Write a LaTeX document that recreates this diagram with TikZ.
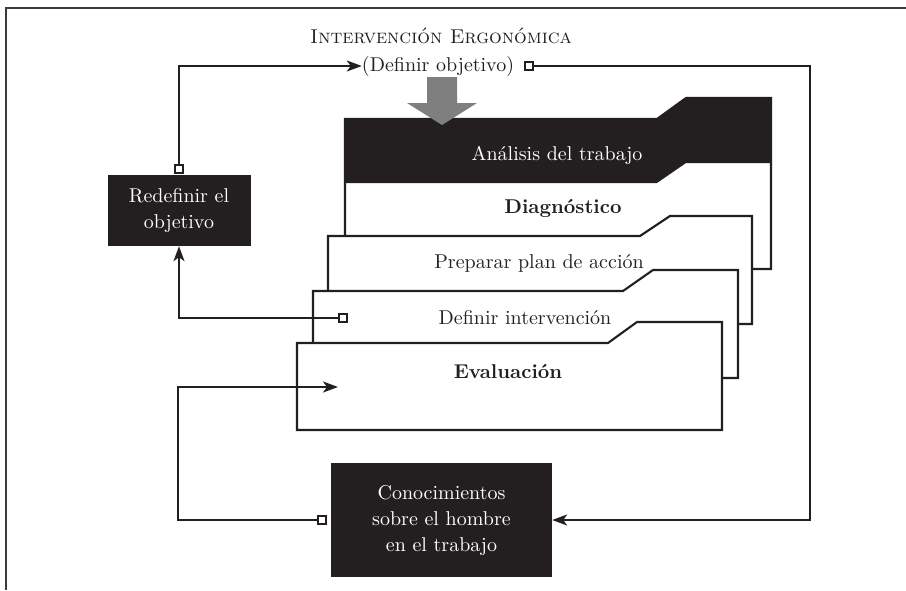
\documentclass[tikz,border=0pt]{standalone}
\usepackage{graphicx}
\usetikzlibrary{arrows.meta}
\definecolor{ink}{HTML}{231F20}
\definecolor{frameink}{HTML}{3C3C3C}
\definecolor{arrowgray}{HTML}{7F7F7F}
% text set in the 10pt design and enlarged, for a sturdier stroke
\newcommand\biglabel[1]{\scalebox{2.0}{\fontsize{10}{13}\selectfont\begin{tabular}{@{}c@{}}#1\end{tabular}}}
\begin{document}
\begin{tikzpicture}[x=1pt,y=-1pt,
  every node/.style={text=ink, inner sep=0pt},
  link/.style={draw=ink, line width=2pt},
  arr/.style={link, -{Stealth[length=15pt,width=11pt,inset=4pt]}},
  port/.style={draw=ink, fill=white, line width=1.9pt, minimum size=8.5pt, inner sep=0pt},
  darkbox/.style={fill=ink, text=white, align=center},
  folder/.style={draw=ink, fill=white, line width=2.1pt, line join=miter},
]
% page and frame
\fill[white] (0,0) rectangle (906,590);
\useasboundingbox (0,0) rectangle (906,590);
\draw[frameink, line width=1.4pt] (6,590) -- (6,8) -- (906,8);

% stacked folders, back to front
\path[folder] (345,119) -- (657,119) -- (686,98) -- (771,98) -- (771,269) -- (345,269) -- cycle;
\fill[ink] (345,119) -- (657,119) -- (686,98) -- (771,98) -- (771,163) -- (686,163) -- (657,183) -- (345,183) -- cycle;
\path[folder] (328,236) -- (640,236) -- (670,216) -- (752,216) -- (752,324) -- (328,324) -- cycle;
\path[folder] (313,291) -- (623,291) -- (653,270) -- (738,270) -- (738,378) -- (313,378) -- cycle;
\path[folder] (297,343) -- (608,343) -- (637,322) -- (722,322) -- (722,430) -- (297,430) -- cycle;

% folder labels
\node[text=white] (analisis) at (557,155) {\biglabel{Análisis del trabajo}};
\node (diag) at (563,208) {\biglabel{\textbf{Diagnóstico}}};
\node (plan) at (539,263) {\biglabel{Preparar plan de acción}};
\node (defint) at (525,319) {\biglabel{Definir intervención}};
\node (eval) at (508,373) {\biglabel{\textbf{Evaluación}}};

% gray entry arrow
\fill[arrowgray] (427,77) -- (457,77) -- (457,103) -- (477,103) -- (442,125) -- (407,103) -- (427,103) -- cycle;

% heading
\node (title) at (441,38) {\biglabel{\textsc{Intervención Ergonómica}}};
\node (goal) at (438,66) {\biglabel{(Definir objetivo)}};

% dark boxes
\node[darkbox, minimum width=143pt, minimum height=71pt] (redef) at (179,210.5) {\biglabel{Redefinir el\\objetivo}};
\node[darkbox, minimum width=221pt, minimum height=114pt] (know) at (441.5,520) {\biglabel{Conocimientos\\sobre el hombre\\en el trabajo}};

% ports
\node[port] (pRedef) at (179,169) {};
\node[port] (pGoal) at (529,66) {};
\node[port] (pDef) at (343,318) {};
\node[port] (pKnow) at (322,520) {};
\coordinate (rightTurn) at (810,66);
\coordinate (evalTip) at (338,387);
\coordinate (leftTurn) at (178,520);

% connectors
\draw[arr] (pRedef.north) |- (goal.west);
\draw[arr] (pGoal.east) -- (rightTurn) |- (know.east);
\draw[arr] (pDef.west) -| (redef.south);
\draw[arr] (pKnow.west) -- (leftTurn) |- (evalTip);
\end{tikzpicture}
\end{document}
